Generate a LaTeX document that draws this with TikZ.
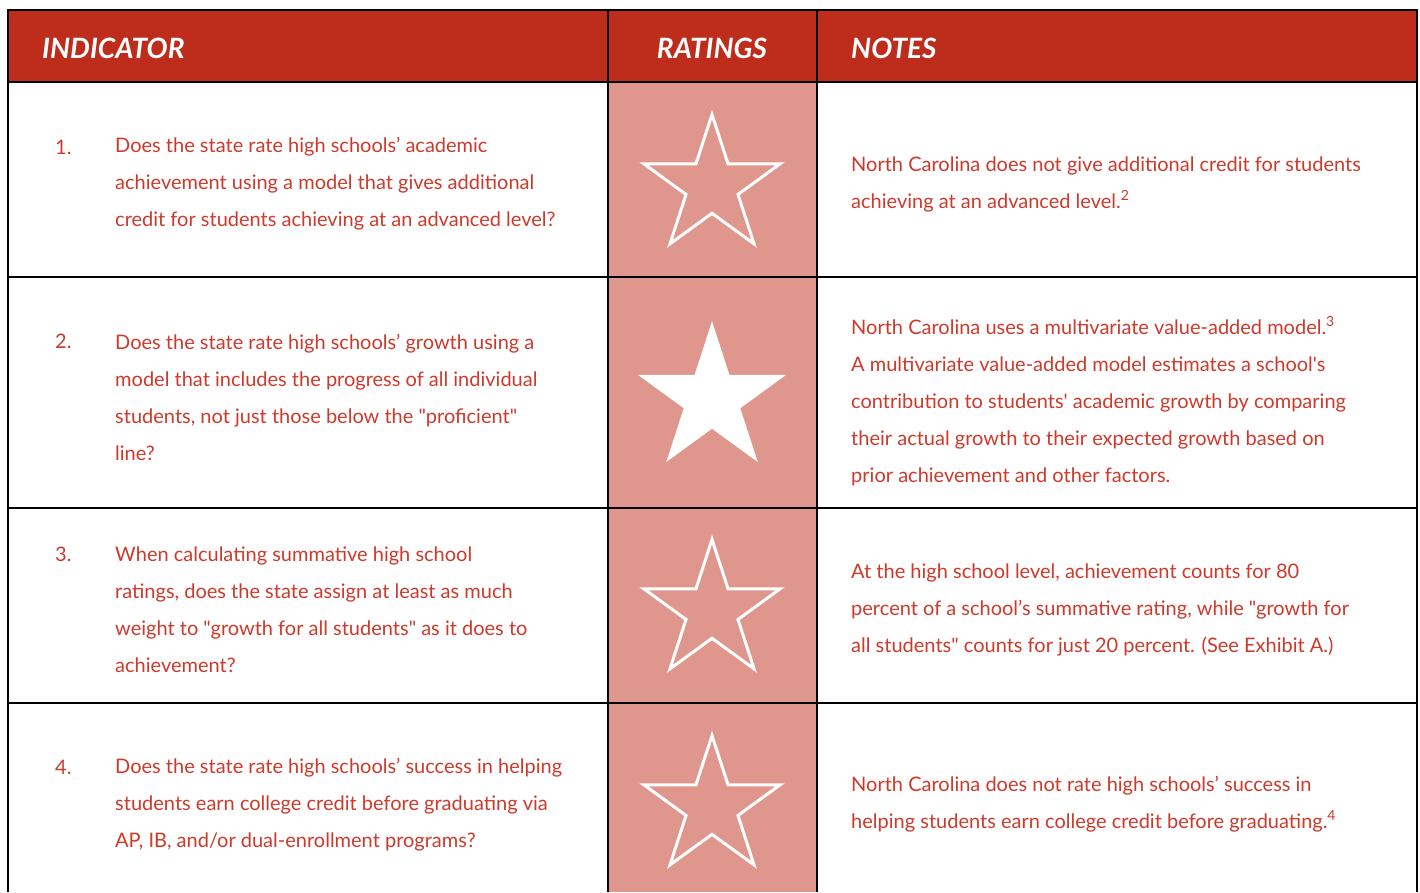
\documentclass[tikz,border=0pt]{standalone}
\usepackage{fontspec}
\setmainfont{Lato}[Ligatures=TeXOff]
\usetikzlibrary{shapes.geometric}
\definecolor{hdrred}{RGB}{190,45,28}
\definecolor{ratepink}{RGB}{223,150,141}
\definecolor{txtred}{RGB}{205,58,44}

\begin{document}
\begin{tikzpicture}[x=1pt,y=-1pt,
	hdrtext/.style={text=white,font=\fontsize{28}{32}\selectfont\bfseries\itshape,inner sep=0},
	qtext/.style={text=txtred,font=\fontsize{20}{37}\selectfont,align=left,inner sep=0,anchor=west},
	emptystar/.style={star,star points=5,star point ratio=2.618,draw=white,line width=3pt,minimum size=143pt,inner sep=0,outer sep=0},
	fullstar/.style={emptystar,fill=white,minimum size=146pt},
	grid/.style={black,line width=2.5pt}]
	\useasboundingbox (0,0) rectangle (1420,892);

	% red header and pink ratings column
	\fill [hdrred] (8,10) rectangle (1417,82);
	\fill [ratepink] (608,82) rectangle (817,892);

	% table lines
	\draw [grid] (8,892) -- (8,10) -- (1417,10) -- (1417,892);
	\foreach \ry in {82,277,508,703}
		\draw [grid] (8,\ry) -- (1417,\ry);
	\draw [grid] (608,10) -- (608,892);
	\draw [grid] (817,10) -- (817,892);

	% header
	\node [hdrtext,anchor=west] (hind) at (42,48) {INDICATOR};
	\node [hdrtext] (hrat) at (712,48) {RATINGS};
	\node [hdrtext,anchor=west] (hnot) at (851,48) {NOTES};

	% stars
	\node [emptystar] (s1) at (712,186) {};
	\node [fullstar] (s2) at (712,399) {};
	\node [emptystar] (s3) at (712,611) {};
	\node [emptystar] (s4) at (712,807) {};

	% numbers
	\node [qtext] (n1) at (55,147) {1.};
	\node [qtext] (n2) at (55,341) {2.};
	\node [qtext] (n3) at (55,554) {3.};
	\node [qtext] (n4) at (55,767) {4.};

	% indicators
	\node [qtext] (q1) at (115,184) {Does the state rate high schools’ academic\\achievement using a model that gives additional\\credit for students achieving at an advanced level?};
	\node [qtext] (q2) at (115,397) {Does the state rate high schools’ growth using a\\model that includes the progress of all individual\\students, not just those below the "proficient"\\line?};
	\node [qtext] (q3) at (115,610) {When calculating summative high school\\ratings, does the state assign at least as much\\weight to "growth for all students" as it does to\\achievement?};
	\node [qtext] (q4) at (115,805) {Does the state rate high schools’ success in helping\\students earn college credit before graduating via\\AP, IB, and/or dual-enrollment programs?};

	% notes
	\node [qtext] (t1) at (851,184) {North Carolina does not give additional credit for students\\achieving at an advanced level.\textsuperscript{2}};
	\node [qtext] (t2) at (851,401) {North Carolina uses a multivariate value-added model.\textsuperscript{3}\\A multivariate value-added model estimates a school's\\contribution to students' academic growth by comparing\\their actual growth to their expected growth based on\\prior achievement and other factors.};
	\node [qtext] (t3) at (851,610) {At the high school level, achievement counts for 80\\percent of a school’s summative rating, while "growth for\\all students" counts for just 20 percent. (See Exhibit A.)};
	\node [qtext] (t4) at (851,804) {North Carolina does not rate high schools’ success in\\helping students earn college credit before graduating.\textsuperscript{4}};
\end{tikzpicture}
\end{document}
